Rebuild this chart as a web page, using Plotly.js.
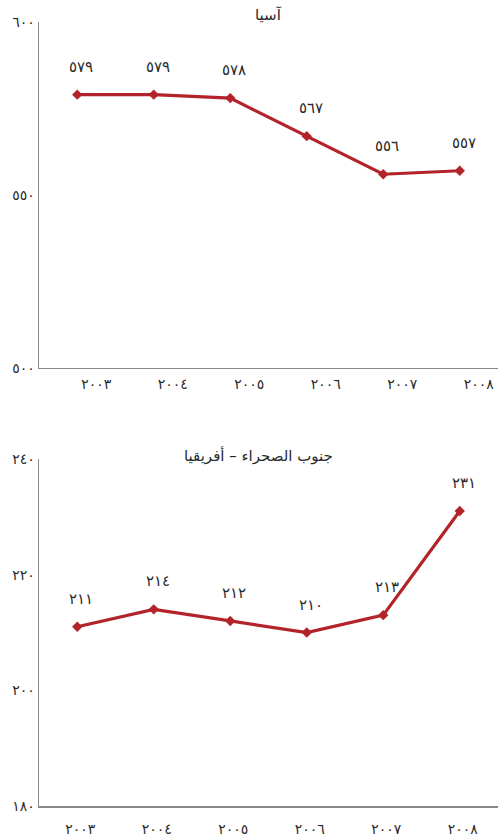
<!DOCTYPE html>
<html>
<head>
<meta charset="utf-8">
<script src="https://cdn.plot.ly/plotly-3.0.1.min.js"></script>
<style>
  html, body { margin: 0; padding: 0; background: #ffffff; }
  #chart { width: 498px; height: 838px; }
</style>
</head>
<body>
<div id="chart"></div>
<script>
// Years shared by both panels
const years = [2003, 2004, 2005, 2006, 2007, 2008];

// Panel values
const asiaValues = [579, 579, 578, 567, 556, 557];
const africaValues = [211, 214, 212, 210, 213, 231];

// Panel titles
const asiaTitle = 'آسيا';
const africaTitle = 'جنوب الصحراء – أفريقيا';

// Y-axis ticks for each panel
const asiaTicks = [500, 550, 600];
const africaTicks = [180, 200, 220, 240];

// Render numbers with Eastern Arabic digits
const arabicDigits = '٠١٢٣٤٥٦٧٨٩';
function toArabic(n) {
  return String(n).replace(/\d/g, d => arabicDigits[+d]);
}

const lineColor = '#b3232a';
const axisColor = '#888888';
const fontFamily = 'DejaVu Sans, sans-serif';
const textColor = '#2a2a2a';

function series(values, xa, ya) {
  return {
    x: years,
    y: values,
    xaxis: xa,
    yaxis: ya,
    type: 'scatter',
    mode: 'lines+markers',
    line: { color: lineColor, width: 3.2 },
    marker: { symbol: 'diamond', size: 8, color: lineColor },
    hoverinfo: 'skip',
    showlegend: false
  };
}

function valueLabels(values, xa, ya) {
  return values.map((v, i) => ({
    x: years[i],
    y: v,
    xref: xa,
    yref: ya,
    text: toArabic(v),
    showarrow: false,
    yshift: 28,
    xshift: 4,
    font: { family: fontFamily, size: 15, color: textColor }
  }));
}

const xBase = {
  range: [2002.5, 2008.5],
  tickvals: years,
  ticktext: years.map(toArabic),
  showgrid: false,
  zeroline: false,
  showline: true,
  linecolor: axisColor,
  linewidth: 1.5,
  ticks: '',
  tickfont: { family: fontFamily, size: 14, color: textColor },
  fixedrange: true
};

const yBase = {
  showgrid: false,
  zeroline: false,
  showline: true,
  linecolor: axisColor,
  linewidth: 1.5,
  ticks: '',
  ticklabelstandoff: 0,
  tickfont: { family: fontFamily, size: 14, color: textColor },
  fixedrange: true
};

const layout = {
  width: 498,
  height: 838,
  margin: { l: 39, r: 0, t: 22, b: 32 },
  paper_bgcolor: '#ffffff',
  plot_bgcolor: '#ffffff',
  font: { family: fontFamily, color: textColor },
  xaxis: Object.assign({}, xBase, { anchor: 'y', ticklabelshift: 19, ticklabelstandoff: 3 }),
  yaxis: Object.assign({}, yBase, {
    domain: [0.5587, 1],
    range: [500, 600],
    tickvals: asiaTicks,
    ticktext: asiaTicks.map(toArabic),
    anchor: 'x'
  }),
  xaxis2: Object.assign({}, xBase, { anchor: 'y2', ticklabelshift: 3, ticklabelstandoff: 10 }),
  yaxis2: Object.assign({}, yBase, {
    domain: [0, 0.4426],
    range: [180, 240],
    tickvals: africaTicks,
    ticktext: africaTicks.map(toArabic),
    anchor: 'x2'
  }),
  annotations: [
    {
      text: asiaTitle,
      xref: 'x domain', yref: 'y domain',
      x: 0.5, y: 1, yanchor: 'middle', yshift: 7,
      showarrow: false,
      font: { family: fontFamily, size: 15, color: textColor }
    },
    {
      text: africaTitle,
      xref: 'x2 domain', yref: 'y2 domain',
      x: 0.5, y: 1, yanchor: 'middle', yshift: 4, xshift: -10,
      showarrow: false,
      font: { family: fontFamily, size: 15, color: textColor }
    }
  ].concat(valueLabels(asiaValues, 'x', 'y'), valueLabels(africaValues, 'x2', 'y2'))
};

Plotly.newPlot('chart', [
  series(asiaValues, 'x', 'y'),
  series(africaValues, 'x2', 'y2')
], layout, { displayModeBar: false, staticPlot: true });
</script>
</body>
</html>
